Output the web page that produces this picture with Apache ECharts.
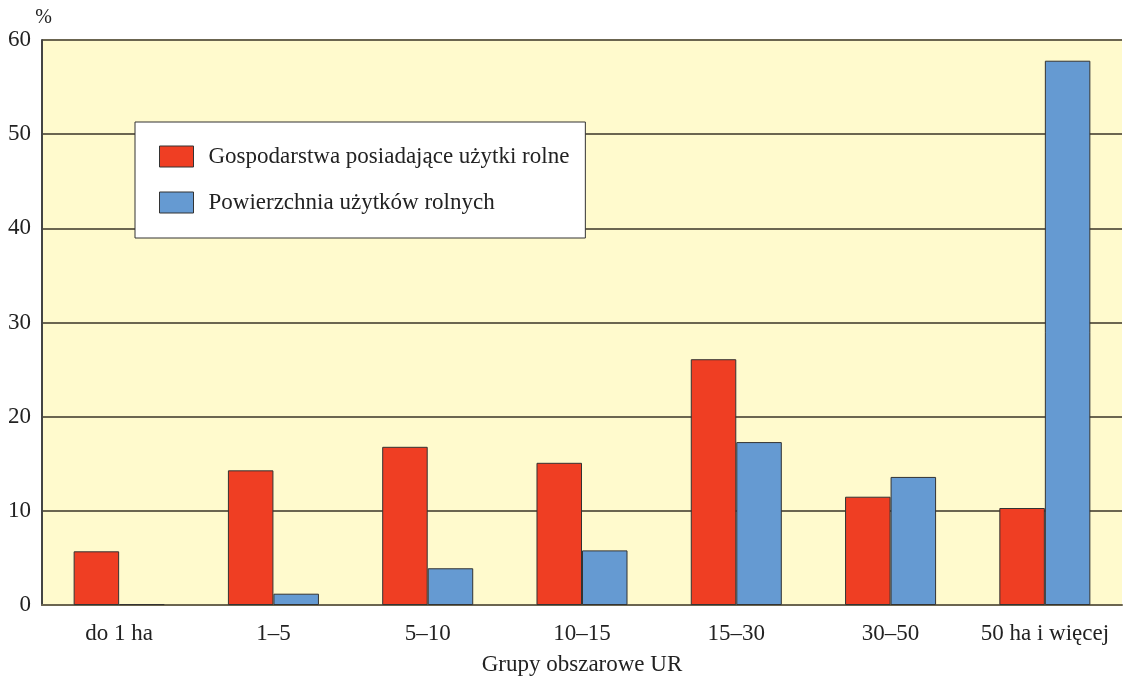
<!DOCTYPE html>
<html>
<head>
<meta charset="utf-8">
<script src="https://cdn.jsdelivr.net/npm/echarts@6/dist/echarts.min.js"></script>
<style>html,body{margin:0;padding:0;background:#fff;}#c{width:1123px;height:678px;}</style>
</head>
<body>
<div id="c"></div>
<script>
const categories = ['do 1 ha', '1–5', '5–10', '10–15', '15–30', '30–50', '50 ha i więcej'];
const farms = [5.7, 14.3, 16.8, 15.1, 26.1, 11.5, 10.3];
const area = [0.1, 1.2, 3.9, 5.8, 17.3, 13.6, 57.8];
const seriesNames = ['Gospodarstwa posiadające użytki rolne', 'Powierzchnia użytków rolnych'];
const yTicks = [0, 10, 20, 30, 40, 50, 60];

const font = '"Liberation Serif", "Times New Roman", serif';
const chart = echarts.init(document.getElementById('c'), null, {renderer: 'canvas'});
chart.setOption({
  animation: false,
  backgroundColor: '#ffffff',
  grid: {left: 42, right: 1, top: 40, bottom: 73, show: true, backgroundColor: '#fffacd', borderWidth: 0,
    containLabel: false, outerBoundsMode: 'none'},
  legend: {
    orient: 'vertical', left: 135, top: 122,
    backgroundColor: '#ffffff', borderColor: '#333333', borderWidth: 1,
    padding: [23, 16, 24, 24],
    itemWidth: 34, itemHeight: 21, itemGap: 23,
    icon: 'rect',
    textStyle: {fontFamily: font, fontSize: 23, color: '#222', padding: [0, 0, 0, 10]},
    itemStyle: {borderColor: '#333', borderWidth: 1}
  },
  xAxis: {
    type: 'category', data: categories,
    name: 'Grupy obszarowe UR', nameLocation: 'middle', nameGap: 48,
    nameTextStyle: {fontFamily: font, fontSize: 23, color: '#222'},
    axisLine: {lineStyle: {color: '#6b6550', width: 2}},
    axisTick: {show: false},
    axisLabel: {fontFamily: font, fontSize: 23, color: '#222', margin: 17, interval: 0}
  },
  yAxis: {
    type: 'value', min: 0, max: 60, interval: 10,
    name: '%', nameLocation: 'end', nameGap: 12,
    nameTextStyle: {fontFamily: font, fontSize: 20, color: '#222', align: 'right', padding: [0, -10, 0, 0]},
    axisLine: {show: true, lineStyle: {color: '#444', width: 2}},
    axisTick: {show: false},
    axisLabel: {fontFamily: font, fontSize: 23, color: '#222', margin: 11,
      formatter: v => yTicks.includes(v) ? String(v) : ''},
    splitLine: {lineStyle: {color: '#6b6550', width: 2}}
  },
  series: [
    {name: seriesNames[0], type: 'bar', data: farms, barGap: '0%', barCategoryGap: '41%',
      itemStyle: {color: '#ef3e23', borderColor: '#333', borderWidth: 1}},
    {name: seriesNames[1], type: 'bar', data: area, barGap: '0%', barCategoryGap: '41%',
      itemStyle: {color: '#659ad2', borderColor: '#333', borderWidth: 1}}
  ]
});
</script>
</body>
</html>
